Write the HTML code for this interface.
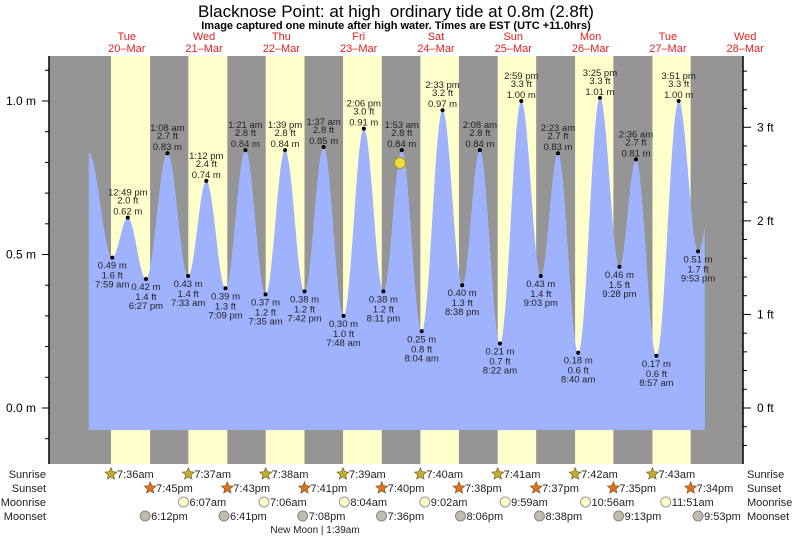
<!DOCTYPE html>
<html><head><meta charset="utf-8"><style>
html,body{margin:0;padding:0;background:#fff;}
svg{display:block;font-family:"Liberation Sans",sans-serif;}
</style></head><body>
<svg id="s" width="793" height="537" xmlns="http://www.w3.org/2000/svg"></svg>
<script>
var s=document.getElementById('s');var o='';
function X(t){return 86.5+t*77.3/24;}
function Y(h){return 408-307*h;}
function tm(d,hh,mm,pm){var h=hh%12+(pm?12:0);return d*24+h+mm/60;}
o+='<rect x="49" y="56" width="694" height="408" fill="#959595"/>';
var sr=[36,37,38,39,40,41,42,43],ss=[45,43,41,40,38,37,35,34];
for(var d=0;d<8;d++){var a=X(tm(d,7,sr[d],0)),b=X(tm(d,7,ss[d],1));o+='<rect x="'+a+'" y="56" width="'+(b-a)+'" height="408" fill="#ffffcc"/>';}
var ex=[[0.7,0.83],[tm(0,7,59,0),0.49,'7:59 am',1.6],[tm(0,12,49,1),0.62,'12:49 pm',2.0],[tm(0,6,27,1),0.42,'6:27 pm',1.4],
[tm(1,1,8,0),0.83,'1:08 am',2.7],[tm(1,7,33,0),0.43,'7:33 am',1.4],[tm(1,1,12,1),0.74,'1:12 pm',2.4],[tm(1,7,9,1),0.39,'7:09 pm',1.3],
[tm(2,1,21,0),0.84,'1:21 am',2.8],[tm(2,7,35,0),0.37,'7:35 am',1.2],[tm(2,1,39,1),0.84,'1:39 pm',2.8],[tm(2,7,42,1),0.38,'7:42 pm',1.2],
[tm(3,1,37,0),0.85,'1:37 am',2.8],[tm(3,7,48,0),0.30,'7:48 am',1.0],[tm(3,2,6,1),0.91,'2:06 pm',3.0],[tm(3,8,11,1),0.38,'8:11 pm',1.2],
[tm(4,1,53,0),0.84,'1:53 am',2.8],[tm(4,8,4,0),0.25,'8:04 am',0.8],[tm(4,2,33,1),0.97,'2:33 pm',3.2],[tm(4,8,38,1),0.40,'8:38 pm',1.3],
[tm(5,2,8,0),0.84,'2:08 am',2.8],[tm(5,8,22,0),0.21,'8:22 am',0.7],[tm(5,2,59,1),1.00,'2:59 pm',3.3],[tm(5,9,3,1),0.43,'9:03 pm',1.4],
[tm(6,2,23,0),0.83,'2:23 am',2.7],[tm(6,8,40,0),0.18,'8:40 am',0.6],[tm(6,3,25,1),1.01,'3:25 pm',3.3],[tm(6,9,28,1),0.46,'9:28 pm',1.5],
[tm(7,2,36,0),0.81,'2:36 am',2.7],[tm(7,8,57,0),0.17,'8:57 am',0.6],[tm(7,3,51,1),1.00,'3:51 pm',3.3],[tm(7,9,53,1),0.51,'9:53 pm',1.7],
[196,0.82]];
var p='M'+X(0.7)+' 430 ';
for(var t=0.7;t<=192;t+=0.25){var i=0;while(ex[i+1][0]<t)i++;var A=ex[i],B=ex[i+1];var f=(t-A[0])/(B[0]-A[0]);var h=A[1]+(B[1]-A[1])*(1-Math.cos(Math.PI*f))/2;p+='L'+X(t).toFixed(1)+' '+Y(h).toFixed(1)+' ';}
p+='L'+X(192)+' 430 Z';
o+='<path d="'+p+'" fill="#9fb2fd"/>';
for(var i=1;i<ex.length-1;i++){var e=ex[i],x=X(e[0]),y=Y(e[1]);var hi=e[1]>ex[i-1][1];
o+='<circle cx="'+x+'" cy="'+y+'" r="2" fill="#000"/>';
var g='<text font-size="9.5" fill="#222" text-anchor="middle">';
var ls=[e[2],e[3].toFixed(1)+' ft',e[1].toFixed(2)+' m'];
if(hi){o+=g.replace('<text','<text x="'+x+'" y="'+(y-22)+'"')+ls[0]+'</text>';o+=g.replace('<text','<text x="'+x+'" y="'+(y-14)+'"')+ls[1]+'</text>';o+=g.replace('<text','<text x="'+x+'" y="'+(y-3)+'"')+ls[2]+'</text>';}
else{o+=g.replace('<text','<text x="'+x+'" y="'+(y+11)+'"')+ls[2]+'</text>';o+=g.replace('<text','<text x="'+x+'" y="'+(y+21)+'"')+ls[1]+'</text>';o+=g.replace('<text','<text x="'+x+'" y="'+(y+30)+'"')+ls[0]+'</text>';}}
o+='<circle cx="400" cy="163" r="5.5" fill="#e8e040" stroke="#b09020" stroke-width="1"/>';
o+='<line x1="49" y1="56" x2="49" y2="464" stroke="#000" stroke-width="1.5"/><line x1="743" y1="56" x2="743" y2="464" stroke="#000" stroke-width="1.5"/>';
for(var k=-2;k<=14;k++){var y=Y(k/10);if(y<56||y>464)continue;var big=k%5==0;o+='<line x1="'+(big?42:45)+'" y1="'+y+'" x2="49" y2="'+y+'" stroke="#000"/>';if(big)o+='<text x="36" y="'+(y+4)+'" font-size="12" text-anchor="end">'+(k/10).toFixed(1)+' m</text>';}
for(var k=-4;k<=20;k++){var y=408-k*0.2*0.3048*307;if(y<56||y>464)continue;var big=k%5==0;o+='<line x1="743" y1="'+y+'" x2="'+(big?751:747)+'" y2="'+y+'" stroke="#000"/>';if(big)o+='<text x="757" y="'+(y+4)+'" font-size="12">'+(k/5)+' ft</text>';}
o+='<text x="396" y="17" font-size="17" text-anchor="middle">Blacknose Point: at high&#160; ordinary tide at 0.8m (2.8ft)</text>';
o+='<text x="396" y="29" font-size="11" font-weight="bold" text-anchor="middle">Image captured one minute after high water. Times are EST (UTC +11.0hrs)</text>';
var dn=['Tue','Wed','Thu','Fri','Sat','Sun','Mon','Tue','Wed'];
for(var d=0;d<9;d++){var x=X(d*24+12.5);o+='<text x="'+x+'" y="40" font-size="11" fill="#e02020" text-anchor="middle">'+dn[d]+'</text><text x="'+x+'" y="52" font-size="11" fill="#e02020" text-anchor="middle">'+(20+d)+'–Mar</text>';}
var rows=[['Sunrise',478],['Sunset',492],['Moonrise',506],['Moonset',520]];
rows.forEach(function(r){o+='<text x="46" y="'+r[1]+'" font-size="11" fill="#222" text-anchor="end">'+r[0]+'</text><text x="747" y="'+r[1]+'" font-size="11" fill="#222">'+r[0]+'</text>';});
function star(cx,cy,fill){var pts='';for(var j=0;j<10;j++){var rr=j%2?2.8:6.2,a=-Math.PI/2+j*Math.PI/5;pts+=(cx+rr*Math.cos(a)).toFixed(1)+','+(cy+rr*Math.sin(a)).toFixed(1)+' ';}return '<polygon points="'+pts+'" fill="'+fill+'" stroke="#7a5a20" stroke-width="0.7"/>';}
function lab(x,y,t){return '<text x="'+(x+6)+'" y="'+(y+4)+'" font-size="11" fill="#222">'+t+'</text>';}
for(var d=0;d<8;d++){var x=X(tm(d,7,sr[d],0));o+=star(x,474,'#c0b030')+lab(x,474,'7:'+sr[d]+'am');x=X(tm(d,7,ss[d],1));o+=star(x,488,'#e07020')+lab(x,488,'7:'+ss[d]+'pm');}
var mr=[[1,6,7],[2,7,6],[3,8,4],[4,9,2],[5,9,59],[6,10,56],[7,11,51]];
mr.forEach(function(m){var x=X(tm(m[0],m[1],m[2],0));o+='<circle cx="'+x+'" cy="502" r="5" fill="#ffffc8" stroke="#999"/>'+lab(x,502,m[1]+':'+(m[2]<10?'0':'')+m[2]+'am');});
var ms=[[0,6,12],[1,6,41],[2,7,8],[3,7,36],[4,8,6],[5,8,38],[6,9,13],[7,9,53]];
ms.forEach(function(m){var x=X(tm(m[0],m[1],m[2],1));o+='<circle cx="'+x+'" cy="516" r="5" fill="#c0bcb0" stroke="#888"/>'+lab(x,516,m[1]+':'+(m[2]<10?'0':'')+m[2]+'pm');});
o+='<text x="315" y="533" font-size="10" fill="#222" text-anchor="middle">New Moon | 1:39am</text>';
s.innerHTML=o;
</script>
</body></html>
